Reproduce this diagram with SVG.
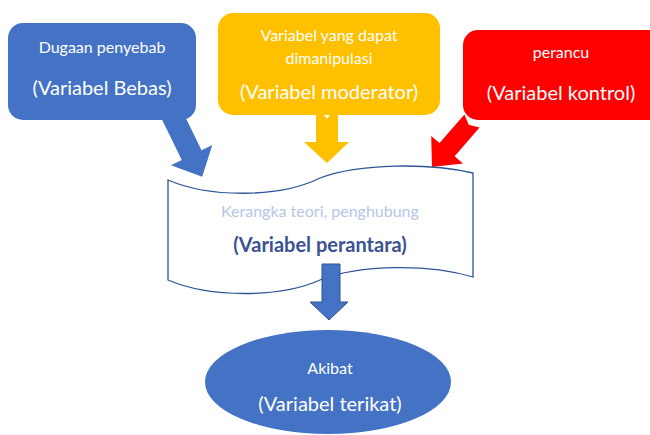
<svg xmlns="http://www.w3.org/2000/svg" width="650" height="435" viewBox="0 0 650 435">
<style>
.t{font-family:Lato,"Open Sans","Liberation Sans",sans-serif;text-anchor:middle;fill:#fff}
.s{font-size:16px}
.l{font-size:20px}
</style>
<rect width="650" height="435" fill="#fff"/>
<g id="connectors">
<polygon id="arrow-bebas" fill="#4472C4" points="-11,-8 11,-8 11,38 23,38 0,62 -23,38 -11,38" transform="translate(175,121) rotate(-26)"/>
<polygon id="arrow-moderator" fill="#FFC000" points="316,115 324,115 327,119 330,115 338,115 338,142 349,142 327,163 304,142 316,142"/>
<polygon id="arrow-kontrol" fill="#FF0000" points="-10,0 0,5 10,0 10,38 21,38 0,61 -21,38 -10,38" transform="translate(472,121) rotate(41)"/>
</g>
<g id="node-bebas">
<rect x="8" y="23" width="188" height="97" rx="15" fill="#4472C4"/>
<text class="t s" x="102" y="53">Dugaan penyebab</text>
<text class="t l" x="102" y="95">(Variabel Bebas)</text>
</g>
<g id="node-moderator">
<rect x="218" y="13" width="222" height="102" rx="15" fill="#FFC000"/>
<text class="t s" x="329" y="41">Variabel yang dapat</text>
<text class="t s" x="329" y="64">dimanipulasi</text>
<text class="t l" x="329" y="99">(Variabel moderator)</text>
</g>
<g id="node-kontrol">
<rect x="463" y="30" width="200" height="90" rx="15" fill="#FF0000"/>
<text class="t s" x="561" y="58">perancu</text>
<text class="t l" x="561" y="100">(Variabel kontrol)</text>
</g>
<g id="node-perantara">
<path d="M168,180 C210,198 280,198 320,178 C360,163 430,163 473,173 L473,277 C430,264 360,264 320,280 C280,298 210,298 168,280 Z" fill="#fff" stroke="#2F5597" stroke-width="1.3"/>
<text class="t s" x="320" y="217" style="fill:#B4C7E7">Kerangka teori, penghubung</text>
<text class="t" x="320" y="252" style="fill:#3B5390;font-size:20px;font-weight:bold">(Variabel perantara)</text>
</g>
<g id="connector-down">
<polygon id="arrow-terikat" fill="#4472C4" stroke="#2F528F" stroke-width="1" points="322,264 340,264 340,302 348,302 329,320 310,302 322,302"/>
</g>
<g id="node-terikat">
<ellipse cx="328" cy="382" rx="123" ry="52" fill="#4472C4"/>
<text class="t s" x="330" y="374">Akibat</text>
<text class="t l" x="330" y="411">(Variabel terikat)</text>
</g>
</svg>
